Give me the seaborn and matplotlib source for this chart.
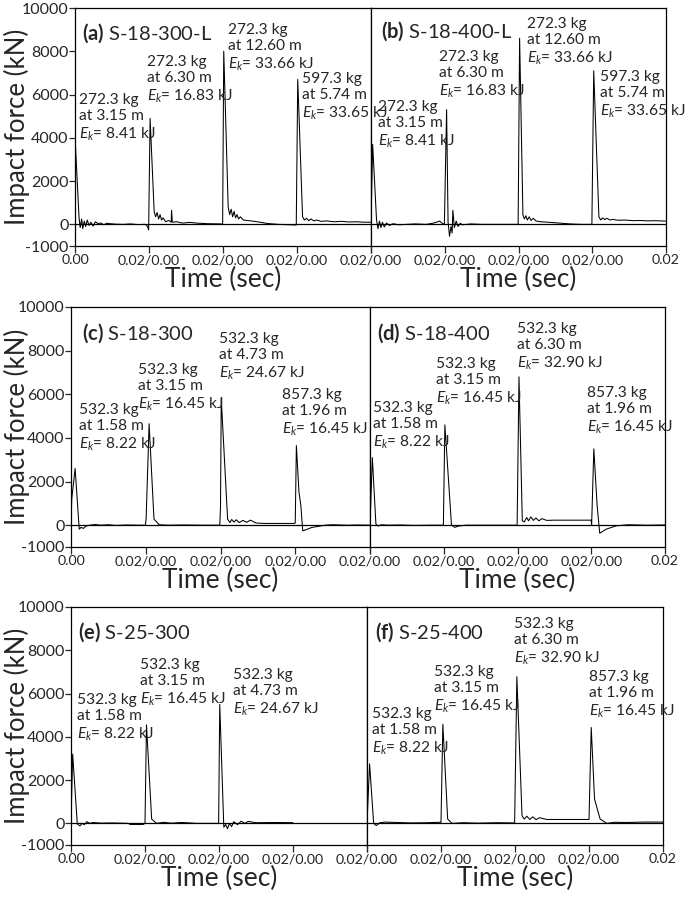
import matplotlib
matplotlib.use("Agg")
import matplotlib.pyplot as plt
import numpy as np
import pandas as pd
import seaborn as sns

# ---- data (time in ms within each half panel, 4 drops x 20 ms; force in kN) ----
a_t = [0, 0.1, 1.1, 1.4, 1.8, 2.1, 2.5, 2.9, 3.3, 3.8, 4.3, 4.9, 5.5, 6.2, 7.0, 7.8, 8.6, 9.5, 11, 13, 15, 17, 19, 19.6, 19.9,
       20.3, 21.4, 21.8, 22.2, 22.6, 23.0, 23.4, 23.8, 24.5, 25.3, 26.0, 26.1, 26.3, 27.5, 29, 31, 33.5, 36, 39.5, 39.9,
       40.2, 41.4, 41.8, 42.2, 42.6, 43.0, 43.4, 43.8, 44.2, 44.7, 45.5, 46.5, 48, 50, 52, 55, 59.8,
       60.2, 61.5, 62.0, 62.6, 63.2, 63.8, 64.5, 65.3, 66.5, 68, 70, 72, 74, 76, 78, 80]
a_f = [0, 3700, 300, -150, 250, -200, 150, -100, 200, -50, 100, -80, 120, 40, 60, -20, 50, 30, 10, 0, 20, -10, 0, -100, -260,
       4900, 580, 350, 550, 250, 450, 200, 300, 120, 180, 100, 650, 100, 120, 60, 90, 50, 30, 20, 0,
       8000, 800, 450, 700, 350, 600, 300, 450, 250, 350, 200, 180, 150, 100, 40, 0, -30,
       6700, 350, 200, 280, 170, 250, 160, 200, 140, 160, 120, 140, 110, 120, 100, 100]

b_t = [0, 0.45, 1.5, 1.9, 2.3, 2.7, 3.1, 3.6, 4.2, 5.0, 6, 7.5, 9.7, 12, 15, 17, 18.6, 19.4, 19.9,
       20.5, 20.9, 21.3, 21.7, 22.0, 22.2, 22.6, 23.1, 23.6, 24.2, 24.8, 27, 30, 35, 39.9,
       40.3, 41.2, 41.6, 42.0, 42.4, 42.9, 43.4, 44.0, 44.8, 46, 48, 51, 54, 57, 59.9,
       60.4, 61.8, 62.3, 62.8, 63.4, 64.0, 64.8, 65.5, 67, 69, 71, 73, 75, 77, 80]
b_f = [0, 3700, 200, -200, 150, -150, 100, -120, 60, -50, 30, -20, 0, 20, 0, 60, 150, 40, 0,
       5300, 100, -550, -100, -400, 650, -150, 150, -100, 50, -20, 20, 0, 0, 0,
       8600, 430, 250, 400, 200, 350, 180, 280, 150, 120, 100, 60, 20, 0, 0,
       7100, 350, 200, 300, 220, 280, 200, 230, 190, 200, 170, 180, 160, 170, 150]

c_t = [0, 0.2, 1.1, 2.2, 2.7, 3.3, 4.0, 5, 6.5, 8, 10, 12, 15, 18, 19.9,
       20.1, 20.9, 22.2, 23.6, 26, 30, 35, 39.8,
       40.0, 40.2, 41.9, 42.5, 43, 43.6, 44.2, 45, 46, 47, 48, 49.5, 52, 56, 59.8,
       60.0, 60.3, 61.0, 61.2, 61.5, 62.0, 63, 64.5, 66, 68, 70, 74, 77, 80]
c_f = [0, 1200, 2600, -180, -100, -150, -40, 0, 30, 0, 20, -10, 10, 0, 0,
       300, 4650, 280, 20, 0, 10, 0, 0,
       800, 5800, 280, 120, 260, 140, 250, 120, 220, 130, 230, 100, 80, 80, 80,
       100, 3650, 1500, 1270, 900, -260, -200, -100, -60, 0, 20, 0, 10, 0]

d_t = [0, 0.63, 1.6, 2.2, 3, 5, 8, 12, 16, 19.9,
       20.3, 22.1, 23.0, 24, 26, 32, 39.9,
       40.4, 41.3, 41.8, 42.5, 43, 43.6, 44.3, 45, 45.8, 46.6, 47.9, 50, 55, 59.9,
       60.0, 60.1, 60.7, 61.6, 62.3, 64.1, 66.8, 70, 75, 80]
d_f = [0, 3100, 50, -40, 20, 0, 10, -10, 0, 0,
       4600, 0, -100, -40, 0, 0, 0,
       6800, 200, 150, 350, 200, 380, 220, 330, 200, 300, 220, 230, 230, 230,
       230, 0, 3500, 890, -370, -180, -30, 20, 0, 10]

e_t = [0, 0.45, 1.7, 2.4, 3.0, 3.6, 4.3, 5, 6, 8, 11, 15.5, 16, 19.5, 20.0,
       20.4, 21.8, 23.1, 25, 27, 30, 34, 39.9,
       40.2, 41.3, 41.8, 42.3, 42.8, 43.4, 44, 45, 46, 47, 47.9, 50, 55, 60]
e_f = [0, 3200, -30, -120, 0, -60, 80, 0, 40, 10, 20, 0, -50, -50, 0,
       4550, 200, 0, 50, 10, 40, 0, 0,
       5500, -180, -50, -250, 0, -150, 80, -60, 100, 0, 90, 30, 40, 30]

f_t = [0, 0.7, 1.8, 2.5, 3.5, 5, 8, 12, 16, 19.9,
       20.0, 20.5, 21.8, 23, 26, 30, 35, 39.9,
       40.5, 41.9, 42.5, 43.2, 44, 44.8, 45.7, 46.6, 48.6, 52, 56, 60,
       60.6, 61.5, 63.0, 64.8, 67, 70, 75, 80]
f_f = [0, 2750, 0, -100, 30, 60, 40, 20, 30, 50,
       50, 4580, 200, 0, 30, 10, 30, 20,
       6780, 350, 200, 330, 180, 300, 170, 260, 180, 180, 180, 180,
       4430, 1120, 200, 0, 50, 40, 60, 60]

titles = ["(a)", "(b)", "(c)", "(d)", "(e)", "(f)"]
specimens = ["S-18-300-L", "S-18-400-L", "S-18-300", "S-18-400", "S-25-300", "S-25-400"]

mass_a = ["272.3", "272.3", "272.3", "597.3"]
height_a = ["3.15", "6.30", "12.60", "5.74"]
ek_a = ["8.41", "16.83", "33.66", "33.65"]
mass_c = ["532.3", "532.3", "532.3", "857.3"]
height_c = ["1.58", "3.15", "4.73", "1.96"]
ek_c = ["8.22", "16.45", "24.67", "16.45"]
mass_d = ["532.3", "532.3", "532.3", "857.3"]
height_d = ["1.58", "3.15", "6.30", "1.96"]
ek_d = ["8.22", "16.45", "32.90", "16.45"]
mass_e = ["532.3", "532.3", "532.3"]
height_e = ["1.58", "3.15", "4.73"]
ek_e = ["8.22", "16.45", "24.67"]

series = [(a_t, a_f), (b_t, b_f), (c_t, c_f), (d_t, d_f), (e_t, e_f), (f_t, f_f)]
notes = [(mass_a, height_a, ek_a), (mass_a, height_a, ek_a), (mass_c, height_c, ek_c),
         (mass_d, height_d, ek_d), (mass_e, height_e, ek_e), (mass_d, height_d, ek_d)]

# ---- layout (pixels of a 685x900 canvas) ----
W, H = 685, 900
rows_px = [(75, 371, 666, 8, 246), (71, 370, 665, 307, 547), (71, 367, 663, 607, 845)]
title_px = [(82, 33), (381, 31), (82, 333), (377, 333), (78, 632), (375, 632)]
note_px = [[(79, 118), (147, 80), (228, 48), (302, 97)],
           [(378, 125), (439, 75), (527, 42), (600, 95)],
           [(79, 428), (138, 388), (219, 357), (282, 413)],
           [(373, 426), (436, 382), (517, 347), (587, 411)],
           [(77, 718), (140, 683), (233, 693)],
           [(372, 732), (434, 690), (514, 642), (589, 695)]]

sns.set_style("ticks")
plt.rcParams["font.family"] = ["Lato", "DejaVu Sans"]
plt.rcParams["mathtext.fontset"] = "custom"
plt.rcParams["mathtext.rm"] = "Lato"
plt.rcParams["mathtext.it"] = "Lato:italic"
plt.rcParams["mathtext.bf"] = "Lato:bold"

fig = plt.figure(figsize=(W / 100, H / 100), dpi=100)
fig.patch.set_facecolor("white")

for r, (x0, xm, x1, ytop, ybot) in enumerate(rows_px):
    for c in range(2):
        i = 2 * r + c
        left = x0 if c == 0 else xm
        right = xm if c == 0 else x1
        ax = fig.add_axes([left / W, 1 - ybot / H, (right - left) / W, (ybot - ytop) / H])
        t, f = series[i]
        df = pd.DataFrame({"time": t, "force": f})
        sns.lineplot(data=df, x="time", y="force", ax=ax, color="black", lw=0.75,
                     estimator=None, sort=False)
        ax.axhline(0, color="black", lw=0.9)
        ax.set_xlim(0, 80)
        ax.set_ylim(-1000, 10000)
        ax.set_xlabel("")
        ax.set_ylabel("")
        for s in ax.spines.values():
            s.set_visible(True)
            s.set_color("black")
            s.set_linewidth(0.9)
        ax.set_xticks([0, 20, 40, 60, 80])
        if c == 0:
            ax.set_xticklabels(["0.00", "0.02/0.00", "0.02/0.00", "0.02/0.00", "0.02/0.00"])
            ax.set_yticks([-1000, 0, 2000, 4000, 6000, 8000, 10000])
            ax.set_yticklabels(["-1000", "0", "2000", "4000", "6000", "8000", "10000"])
            ax.tick_params(axis="y", direction="out", length=4, width=0.9, pad=0.5, labelsize=11.5)
        else:
            ax.set_xticklabels(["", "0.02/0.00", "0.02/0.00", "0.02/0.00", "0.02"])
            ax.tick_params(axis="y", left=False, labelleft=False)
        ax.tick_params(axis="x", direction="out", length=5, width=0.9, pad=1, labelsize=10.3)

        # panel title
        tx, ty = title_px[i]
        fig.text(tx / W, 1 - ty / H, r"$\mathbf{" + titles[i] + "}$ " + specimens[i],
                 fontsize=14.5, ha="left", va="center")
        # drop annotations
        m, hgt, ek = notes[i]
        for k, (nx, ny) in enumerate(note_px[i]):
            txt = m[k] + " kg\nat " + hgt[k] + " m\n" + r"$E_k$= " + ek[k] + " kJ"
            fig.text(nx / W, 1 - ny / H, txt, fontsize=11.2, ha="left", va="center",
                     linespacing=1.22)

        # x label per half
        fig.text((left + right) / 2 / W, 1 - (ybot + 33) / H, "Time (sec)",
                 fontsize=19, ha="center", va="center")
    fig.text(17 / W, 1 - (ytop + ybot) / 2 / H, "Impact force (kN)", fontsize=18.5,
             rotation=90, ha="center", va="center")

fig.savefig("out.png", dpi=100, facecolor="white")
